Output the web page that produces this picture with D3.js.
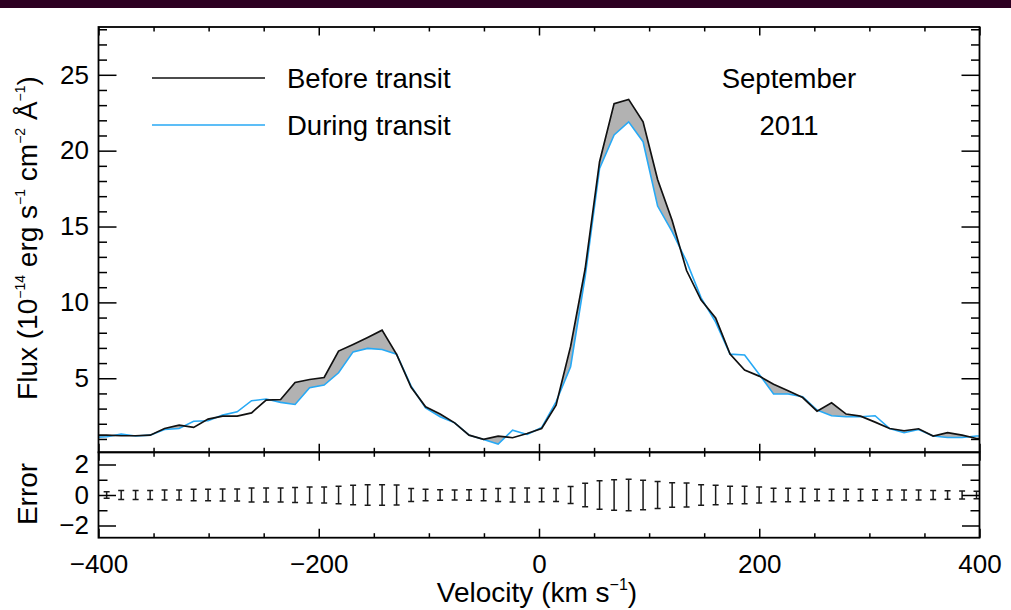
<!DOCTYPE html>
<html>
<head>
<meta charset="utf-8">
<script src="https://cdn.jsdelivr.net/npm/d3@7"></script>
<style>
  body { margin: 0; background: #fff; }
  svg { display: block; }
  text { font-family: "Liberation Sans", Arial, Helvetica, sans-serif; fill: #000; }
</style>
</head>
<body>
<div id="chart"></div>
<script>
// velocity bins (km/s), one extra bin past each edge so the lines reach the frame
const velocity = [-405.8, -392.6, -379.4, -366.3, -353.1, -340.0, -326.8, -313.6, -300.5, -287.3, -274.1,
  -261.0, -247.8, -234.6, -221.5, -208.3, -195.1, -182.0, -168.8, -155.6, -142.5,
  -129.3, -116.1, -103.0, -89.8, -76.6, -63.5, -50.3, -37.1, -24.0, -10.8,
  2.4, 15.5, 28.7, 41.9, 55.0, 68.2, 81.4, 94.5, 107.7, 120.9,
  134.0, 147.2, 160.4, 173.5, 186.7, 199.9, 213.0, 226.2, 239.4, 252.5,
  265.7, 278.9, 292.0, 305.2, 318.4, 331.5, 344.7, 357.9, 371.0, 384.2, 397.3, 410.5];

// flux in 1e-14 erg/s/cm2/A
const fluxBefore = [1.25, 1.25, 1.21, 1.21, 1.25, 1.69, 1.91, 1.76, 2.31, 2.5, 2.5,
  2.72, 3.56, 3.6, 4.72, 4.92, 5.05, 6.79, 7.23, 7.69, 8.17,
  6.57, 4.4, 3.12, 2.64, 2.06, 1.25, 0.97, 1.19, 1.08, 1.36,
  1.69, 3.23, 7.1, 12.2, 19.27, 23.1, 23.38, 21.9, 18.1, 15.4,
  12.1, 10.15, 8.97, 6.6, 5.54, 5.14, 4.61, 4.18, 3.73, 2.83,
  3.38, 2.64, 2.5, 2.11, 1.69, 1.54, 1.67, 1.19, 1.41, 1.25, 1.03, 1.0];

const fluxDuring = [1.1, 1.14, 1.32, 1.19, 1.25, 1.62, 1.69, 2.17, 2.2, 2.57, 2.79,
  3.52, 3.63, 3.41, 3.27, 4.37, 4.55, 5.36, 6.74, 6.97, 6.9,
  6.59, 4.48, 3.05, 2.46, 2.06, 1.25, 0.97, 0.66, 1.58, 1.3,
  1.75, 3.45, 5.76, 11.69, 18.83, 21.03, 21.9, 20.59, 16.35, 14.66,
  12.7, 10.3, 8.7, 6.59, 6.53, 5.27, 3.96, 3.96, 3.78, 2.9,
  2.53, 2.46, 2.46, 2.53, 1.69, 1.41, 1.62, 1.19, 1.1, 1.1, 1.19, 1.2];

// half-length of the error bars
const errors = [0.22, 0.22, 0.3, 0.3, 0.3, 0.33, 0.33, 0.37, 0.37, 0.4, 0.4,
  0.46, 0.46, 0.46, 0.49, 0.53, 0.53, 0.57, 0.64, 0.68, 0.68,
  0.65, 0.42, 0.37, 0.35, 0.33, 0.35, 0.37, 0.42, 0.46, 0.46,
  0.44, 0.42, 0.55, 0.77, 0.93, 1.0, 1.04, 0.97, 0.88, 0.81,
  0.79, 0.68, 0.64, 0.57, 0.57, 0.53, 0.44, 0.44, 0.44, 0.37,
  0.37, 0.37, 0.37, 0.35, 0.33, 0.33, 0.33, 0.3, 0.28, 0.26, 0.24, 0.24];

const xMajor = [-400, -200, 0, 200, 400];
const xMinor = [-350, -300, -250, -150, -100, -50, 50, 100, 150, 250, 300, 350];
const fluxMajor = [5, 10, 15, 20, 25];
const fluxMinor = [1, 2, 3, 4, 6, 7, 8, 9, 11, 12, 13, 14, 16, 17, 18, 19, 21, 22, 23, 24, 26, 27, 28];
const errMajor = [-2, 0, 2];
const errMinor = [-1, 1];

const legendNames = ["Before transit", "During transit"];
const legendColors = ["#111111", "#27a9f5"];
const dateLines = ["September", "2011"];

function main() {
    const width = 1011, height = 610;
    const left = 98.5, right = 979.5, top = 27, mid = 452.3, bottom = 537.7;
    const fmt = d => d < 0 ? "\u2212" + Math.abs(d) : String(d);

    const svg = d3.select("#chart").append("svg")
        .attr("width", width)
        .attr("height", height);

    // dark strip at the very top of the picture
    svg.append("rect")
        .attr("x", 0).attr("y", 0)
        .attr("width", width).attr("height", 8)
        .attr("fill", "#2d0022");

    const x = d3.scaleLinear().domain([-400, 400]).range([left, right]);
    const y = d3.scaleLinear().domain([0.12, 28.15]).range([mid, top]);
    const ye = d3.scaleLinear().domain([-2.8, 2.8]).range([bottom, mid]);

    const defs = svg.append("defs");
    defs.append("clipPath").attr("id", "clipTop")
        .append("rect").attr("x", left).attr("y", top)
        .attr("width", right - left).attr("height", mid - top);
    defs.append("clipPath").attr("id", "clipErr")
        .append("rect").attr("x", left).attr("y", mid)
        .attr("width", right - left).attr("height", bottom - mid);

    const idx = d3.range(velocity.length);

    // region above the "during" line, used to keep only the absorbed part
    defs.append("clipPath").attr("id", "aboveBlue")
        .append("path")
        .attr("d", d3.area()
            .x(i => x(velocity[i]))
            .y0(top)
            .y1(i => y(fluxDuring[i]))(idx));

    const plot = svg.append("g").attr("clip-path", "url(#clipTop)");

    // grey: absorbed flux
    plot.append("g").attr("clip-path", "url(#aboveBlue)")
        .append("path")
        .attr("d", d3.area()
            .x(i => x(velocity[i]))
            .y0(mid)
            .y1(i => y(fluxBefore[i]))(idx))
        .attr("fill", "#b2b2b2");

    const line = vals => d3.line()
        .x(i => x(velocity[i]))
        .y(i => y(vals[i]))(idx);

    plot.append("path")
        .attr("d", line(fluxDuring))
        .attr("fill", "none")
        .attr("stroke", legendColors[1])
        .attr("stroke-width", 1.6);

    plot.append("path")
        .attr("d", line(fluxBefore))
        .attr("fill", "none")
        .attr("stroke", legendColors[0])
        .attr("stroke-width", 1.7);

    // error bars
    const eb = svg.append("g").attr("clip-path", "url(#clipErr)")
        .selectAll("g")
        .data(idx.filter(i => velocity[i] > -400 && velocity[i] < 400))
        .enter().append("g")
        .attr("stroke", "#1a1a1a")
        .attr("stroke-width", 1.5);
    eb.append("line")
        .attr("x1", i => x(velocity[i])).attr("x2", i => x(velocity[i]))
        .attr("y1", i => ye(-errors[i])).attr("y2", i => ye(errors[i]));
    eb.append("line")
        .attr("x1", i => x(velocity[i]) - 3).attr("x2", i => x(velocity[i]) + 3)
        .attr("y1", i => ye(errors[i])).attr("y2", i => ye(errors[i]));
    eb.append("line")
        .attr("x1", i => x(velocity[i]) - 3).attr("x2", i => x(velocity[i]) + 3)
        .attr("y1", i => ye(-errors[i])).attr("y2", i => ye(-errors[i]));

    // ticks, all pointing inwards
    function axis(gen, ty, tx, major, minor, bigLen, smallLen, labels, pad) {
        const g = svg.append("g").attr("transform", `translate(${tx},${ty})`);
        g.call(gen.tickValues(minor).tickSizeInner(smallLen).tickSizeOuter(0).tickFormat(""));
        const g2 = svg.append("g").attr("transform", `translate(${tx},${ty})`);
        g2.call(gen.tickValues(major).tickSizeInner(bigLen).tickSizeOuter(0)
            .tickPadding(pad || 3).tickFormat(labels ? fmt : ""));
        [g, g2].forEach(a => {
            a.select(".domain").remove();
            a.selectAll(".tick line").attr("stroke", "#000").attr("stroke-width", 1.5);
            a.selectAll("text").attr("font-size", 26)
                .attr("font-family", "Liberation Sans, Arial, sans-serif").attr("fill", "#000");
        });
    }

    // top panel
    axis(d3.axisBottom(x), top, 0, xMajor, xMinor, 8.5, 4.5, false);
    axis(d3.axisTop(x), mid, 0, xMajor, xMinor, 8.5, 4.5, false);
    axis(d3.axisLeft(y), 0, left, fluxMajor, fluxMinor, -18, -8.5, true, 9.5);
    axis(d3.axisRight(y), 0, right, fluxMajor, fluxMinor, -18, -8.5, false);

    // error panel
    axis(d3.axisBottom(x), mid, 0, xMajor, xMinor, 8.5, 4.5, false);
    axis(d3.axisBottom(x), bottom, 0, xMajor, xMinor, -9, -4.5, true, 16.5);
    axis(d3.axisLeft(ye), 0, left, errMajor, errMinor, -17.5, -9, true, 9.5);
    axis(d3.axisRight(ye), 0, right, errMajor, errMinor, -17.5, -9, false);

    // frames
    svg.append("rect")
        .attr("x", left).attr("y", top)
        .attr("width", right - left).attr("height", mid - top)
        .attr("fill", "none").attr("stroke", "#000").attr("stroke-width", 1.8);
    svg.append("rect")
        .attr("x", left).attr("y", mid)
        .attr("width", right - left).attr("height", bottom - mid)
        .attr("fill", "none").attr("stroke", "#000").attr("stroke-width", 1.8);

    // axis titles
    svg.append("text")
        .attr("x", 537).attr("y", 602)
        .attr("text-anchor", "middle")
        .attr("font-size", 28)
        .call(t => {
            t.append("tspan").text("Velocity (km s");
            t.append("tspan").attr("dy", -12).attr("font-size", 16).text("\u22121");
            t.append("tspan").attr("dy", 12).text(")");
        });

    svg.append("text")
        .attr("transform", "translate(37,238) rotate(-90)")
        .attr("text-anchor", "middle")
        .attr("font-size", 28)
        .call(t => {
            const parts = [["Flux (10", ""], ["\u221214", "s"], [" erg s", ""], ["\u22121", "s"],
                [" cm", ""], ["\u22122", "s"], [" \u00c5", ""], ["\u22121", "s"], [")", ""]];
            let up = false;
            parts.forEach(p => {
                const sp = t.append("tspan").text(p[0]);
                if (p[1] === "s") { sp.attr("dy", -12).attr("font-size", 14); up = true; }
                else if (up) { sp.attr("dy", 12); up = false; }
            });
        });

    svg.append("text")
        .attr("transform", "translate(37,494) rotate(-90)")
        .attr("text-anchor", "middle")
        .attr("font-size", 28)
        .text("Error");

    // legend
    legendNames.forEach((name, i) => {
        const ly = 78 + i * 47;
        svg.append("line")
            .attr("x1", 152).attr("x2", 265)
            .attr("y1", ly).attr("y2", ly)
            .attr("stroke", legendColors[i]).attr("stroke-width", 1.7);
        svg.append("text")
            .attr("x", 287).attr("y", ly + 10)
            .attr("font-size", 27.5)
            .attr("fill", i === 1 ? legendColors[1] : "#000")
            .text(name);
    });

    dateLines.forEach((s, i) => {
        svg.append("text")
            .attr("x", 789).attr("y", 88 + i * 47)
            .attr("text-anchor", "middle")
            .attr("font-size", 27.5)
            .text(s);
    });
}

main()
</script>
</body>
</html>
